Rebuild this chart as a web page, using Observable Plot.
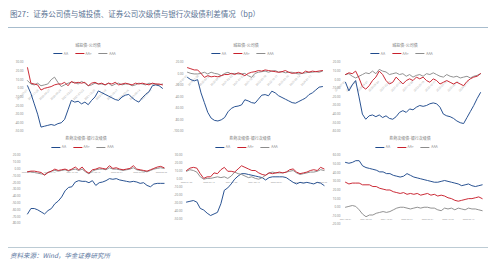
<!DOCTYPE html>
<html><head><meta charset="utf-8">
<script src="https://cdn.jsdelivr.net/npm/d3@7"></script>
<script src="https://cdn.jsdelivr.net/npm/@observablehq/plot@0.6"></script>
<style>
html,body{margin:0;padding:0;background:#fff;}
body{width:500px;height:268px;position:relative;overflow:hidden;font-family:"Noto Sans CJK SC","Noto Sans",sans-serif;}
.abs{position:absolute;}
#title{left:10px;top:8.5px;font-size:7.5px;line-height:10px;color:#5a7394;white-space:nowrap;}
#hline{left:8px;top:27px;width:480px;height:1px;background:#a7bccd;}
#fline{left:8px;top:246.5px;width:480px;height:1.5px;background:#bccbd4;}
#foot{left:10px;top:250.5px;font-size:6.5px;line-height:9px;font-style:italic;color:#5a76a0;white-space:nowrap;}
.ptitle{font-size:4px;line-height:5px;color:#777;white-space:nowrap;transform:translate(-50%,-50%);}
.legend{display:flex;align-items:center;font-size:3.5px;line-height:4px;color:#888;white-space:nowrap;transform:translate(-50%,-50%);}
.sw{display:inline-block;width:9px;height:1px;margin-right:1.5px;}
.lt{margin-right:7px;}
</style></head><body>
<div id="title" class="abs">图27：证券公司债与城投债、证券公司次级债与银行次级债利差情况（bp）</div>
<div id="hline" class="abs"></div>
<div id="fline" class="abs"></div>
<div id="foot" class="abs">资料来源：Wind，华金证券研究所</div>
<script>
// ---------- labels ----------
const seriesNames = ["AA", "AA+", "AAA"];
const seriesColors = ["#1f4a8c", "#c8202c", "#8c8c8c"];
const topTitle = "城投债-公司债";
const bottomTitle = "券商次级债-银行次级债";

// ---------- x sampling / tick labels ----------
const topStart = "2019-07-01", topStep = 45;
const topTicks = ["2019-07-01","2019-11-28","2020-04-27","2020-09-24","2021-02-22","2021-07-22","2021-12-20","2022-05-19","2022-10-17","2023-03-16","2023-08-14","2024-01-11"];
const bottomStart = "2020-01-02", bottomStep = 30;
const bottomTicks = ["2020-01-02","2020-07-16","2021-01-28","2021-08-12","2022-02-24","2022-09-08","2023-03-23"];
const p6Start = "2021-03-01", p6Step = 20;
const p6Ticks = ["2021-03-01","2021-06-29","2021-10-27","2022-02-24","2022-06-24","2022-10-22","2023-02-19"];

// ---------- y ticks ----------
const p1YTicks = [30, 20, 10, 0, -10, -20, -30, -40, -50];
const p2YTicks = [20, 0, -20, -40, -60, -80, -100];
const p3YTicks = [20, 10, 0, -10, -20, -30, -40, -50, -60];
const p4YTicks = [20, 10, 0, -10, -20, -30, -40, -50, -60, -70, -80];
const p5YTicks = [30, 20, 10, 0, -10, -20, -30, -40, -50];
const p6YTicks = [60, 50, 40, 30, 20, 10, 0, -10, -20];

// ---------- series values (bp) ----------
const p1AA  = [3,-6,-18,-30,-45,-44,-43,-42,-43,-41,-40,-36,-25,-14,-16,-15,-18,-16,-19,-14,-10,-3,-5,-7,-9,-11,-13,-14,-10,-8,-7,-11,-14,-16,-11,-7,-4,3,4,3,0];
const p1AAp = [24,6,5,4,-2,0,1,2,4,5,5,7,3,8,6,7,6,7,3,6,7,5,6,4,6,5,7,4,5,6,5,4,6,5,6,5,4,6,5,5,4];
const p1AAA = [9,5,4,6,3,4,5,10,13,7,2,4,6,7,7,5,8,6,3,4,6,5,5,4,6,3,5,6,4,5,5,3,4,6,5,4,6,5,5,4,5];

const p2AA  = [-6,-10,-12,-10,-33,-50,-67,-77,-81,-82,-80,-76,-66,-60,-57,-56,-54,-45,-47,-50,-51,-44,-37,-36,-38,-30,-33,-38,-41,-44,-47,-50,-51,-48,-45,-42,-36,-33,-28,-23,-22];
const p2AAp = [11,9,7,7,1,-6,-3,-5,-4,-5,-3,-1,-1,1,-1,2,0,-3,1,3,4,6,5,7,6,5,4,3,4,6,3,1,2,3,1,5,3,5,4,5,6];
const p2AAA = [3,1,0,0,1,3,0,3,1,0,-3,1,3,0,1,0,0,1,-3,-6,1,3,4,5,3,5,6,3,4,2,3,3,1,0,1,2,3,3,4,3,5];

const p3AA  = [-3,-13,-6,-1,-20,-40,-46,-42,-41,-43,-41,-44,-42,-45,-46,-43,-38,-36,-38,-34,-35,-32,-30,-31,-30,-28,-27,-28,-32,-40,-42,-43,-45,-48,-50,-51,-44,-37,-30,-22,-15];
const p3AAp = [6,8,7,10,2,-8,-11,-7,-1,3,10,6,-1,-5,-3,3,-1,-5,-1,1,-1,3,1,3,-1,-3,1,-1,-5,-3,-1,-3,-5,-3,-5,-7,-2,1,3,4,7];
const p3AAA = [6,7,4,2,4,6,8,7,10,7,12,10,9,6,7,8,6,7,4,6,3,5,6,4,7,6,8,6,4,3,6,4,3,4,2,3,4,2,4,5,7];

const p4AA  = [-66,-58,-58,-60,-63,-66,-61,-58,-51,-47,-41,-32,-27,-26,-19,-17,-18,-18,-20,-17,-24,-20,-19,-17,-14,-15,-14,-16,-17,-18,-19,-18,-19,-21,-20,-24,-26,-22,-21,-21,-21];
const p4AAp = [-4,-3,-3,-4,-5,-9,-5,-3,0,-2,-1,0,-2,0,3,-1,3,-3,-6,-1,0,2,1,0,5,1,2,0,-1,0,1,5,0,-1,-2,-3,-1,1,3,4,2];
const p4AAA = [-4,-4,-5,-6,-7,-8,-5,-3,-2,-3,-2,-1,-3,-1,0,-2,0,-4,-7,-3,-1,0,0,-1,2,0,0,-1,-2,-1,0,2,-1,-2,-3,-4,-2,0,1,2,1];

const p5AA  = [-29,-28,-27,-29,-37,-39,-43,-46,-44,-42,-31,-14,-11,-6,0,4,7,7,6,5,4,3,2,-1,2,3,3,3,3,2,-1,-4,-6,-4,-5,-4,-5,-6,-4,-5,-8];
const p5AAp = [11,14,15,14,7,1,3,3,8,7,12,15,10,10,9,13,17,15,13,11,11,8,6,5,8,7,8,9,8,9,12,13,9,7,8,9,11,12,11,15,13];
const p5AAA = [10,12,11,9,3,0,1,1,2,3,2,3,1,4,9,7,6,4,2,3,1,0,2,5,8,9,8,8,8,9,10,11,8,6,7,8,9,9,10,12,11];

const p6AA  = [52,51,52,54,54,48,46,45,44,43,41,41,39,39,37,36,35,36,39,37,35,34,33,32,31,30,29,29,30,31,30,29,28,27,25,26,27,25,24,25,26];
const p6AAp = [29,27,28,28,28,26,26,26,24,24,22,21,20,20,18,17,16,17,15,16,15,16,14,15,16,14,15,13,14,13,11,10,8,7,8,9,10,10,11,12,10];
const p6AAA = [0,1,2,1,-3,-8,-11,-9,-9,-7,-6,-5,-6,-5,-3,-1,0,0,-1,-2,-1,0,-1,0,0,-1,-1,-3,-4,-1,-2,-1,-3,-1,-2,-3,-1,-2,-2,-3,-4];

// ---------- panel layout (page pixels) ----------
const panels = [
  {series:[p1AA,p1AAp,p1AAA], start:topStart, step:topStep, ticks:topTicks, yTicks:p1YTicks, yDom:[-50,30], axisAt:0, rot:true,
   x0:26.7, x1:161.7, yT:61.7, yB:130.6, pad:4, title:topTitle, tx:88, ty:45.3, ly:53.7},
  {series:[p2AA,p2AAp,p2AAA], start:topStart, step:topStep, ticks:topTicks, yTicks:p2YTicks, yDom:[-100,20], axisAt:0, rot:true,
   x0:186.7, x1:321.7, yT:61.7, yB:130.5, pad:4, title:topTitle, tx:246, ty:45.3, ly:53.7},
  {series:[p3AA,p3AAp,p3AAA], start:topStart, step:topStep, ticks:topTicks, yTicks:p3YTicks, yDom:[-60,20], axisAt:0, rot:true,
   x0:345, x1:480, yT:61.7, yB:130.5, pad:5, title:topTitle, tx:405, ty:45.3, ly:53.7},
  {series:[p4AA,p4AAp,p4AAA], start:bottomStart, step:bottomStep, ticks:bottomTicks, yTicks:p4YTicks, yDom:[-80,20], axisAt:0, rot:false,
   x0:26.7, x1:163.3, yT:155, yB:223, pad:7, title:bottomTitle, tx:86, ty:138, ly:147.3},
  {series:[p5AA,p5AAp,p5AAA], start:bottomStart, step:bottomStep, ticks:bottomTicks, yTicks:p5YTicks, yDom:[-50,30], axisAt:0, rot:false,
   x0:185.7, x1:323.3, yT:155, yB:218.2, pad:4, title:bottomTitle, tx:250, ty:138, ly:147.3},
  {series:[p6AA,p6AAp,p6AAA], start:p6Start, step:p6Step, ticks:p6Ticks, yTicks:p6YTicks, yDom:[-20,60], axisAt:-10, rot:false,
   x0:345, x1:481.7, yT:155, yB:224, pad:5, title:bottomTitle, tx:410, ty:138, ly:147.3}
];

const parse = d3.utcParse("%Y-%m-%d");
const fmt = d3.utcFormat("%Y-%m-%d");
const ML = 30, MR = 6, MT = 8, MB = 8;
const drawOrder = [0, 2, 1]; // blue, grey, red on top

panels.forEach(p => {
  const start = parse(p.start);
  const n = p.series[0].length;
  const dates = d3.range(n).map(i => d3.utcDay.offset(start, i * p.step));
  const rows = [];
  drawOrder.forEach(k => p.series[k].forEach((v, i) => rows.push({date: dates[i], value: v, s: seriesNames[k]})));
  const tickDates = p.ticks.map(parse);
  const w = p.x1 - p.x0 + ML + MR, h = p.yB - p.yT + MT + MB;

  const chart = Plot.plot({
    width: w, height: h,
    marginLeft: ML, marginRight: MR, marginTop: MT, marginBottom: MB,
    x: {type: "utc", domain: [dates[0], dates[n - 1]], axis: null},
    y: {domain: p.yDom, axis: null},
    color: {domain: seriesNames, range: seriesColors},
    style: {fontSize: "3px", fontFamily: "'Noto Sans','DejaVu Sans',sans-serif", background: "transparent", overflow: "visible"},
    marks: [
      Plot.axisY(p.yTicks, {label: null, tickSize: 0, tickPadding: p.pad, tickFormat: d => d.toFixed(2), fill: "#8a8a8a", fontSize: 3}),
      p.rot
        ? Plot.text(tickDates, {x: d => d, y: () => p.axisAt, text: d => fmt(d), rotate: -45, textAnchor: "end", dy: 1.5, dx: -0.5, fill: "#b0b0b0", fontSize: 2.7})
        : Plot.text(tickDates, {x: d => d, y: () => p.axisAt, text: d => fmt(d), textAnchor: "middle", dy: 3, fill: "#9a9a9a", fontSize: 2.2}),
      Plot.line(rows, {x: "date", y: "value", z: "s", stroke: "s", strokeWidth: 0.95})
    ]
  });
  const wrap = document.createElement("div");
  wrap.className = "abs";
  wrap.style.left = (p.x0 - ML) + "px";
  wrap.style.top = (p.yT - MT) + "px";
  wrap.appendChild(chart);
  document.body.appendChild(wrap);

  const t = document.createElement("div");
  t.className = "abs ptitle";
  t.style.left = p.tx + "px"; t.style.top = p.ty + "px";
  t.textContent = p.title;
  document.body.appendChild(t);

  const lg = document.createElement("div");
  lg.className = "abs legend";
  lg.style.left = p.tx + "px"; lg.style.top = p.ly + "px";
  seriesNames.forEach((nm, k) => {
    const sw = document.createElement("span"); sw.className = "sw"; sw.style.background = seriesColors[k];
    const tx = document.createElement("span"); tx.className = "lt"; tx.textContent = nm;
    lg.appendChild(sw); lg.appendChild(tx);
  });
  document.body.appendChild(lg);
});
</script>
</body></html>
